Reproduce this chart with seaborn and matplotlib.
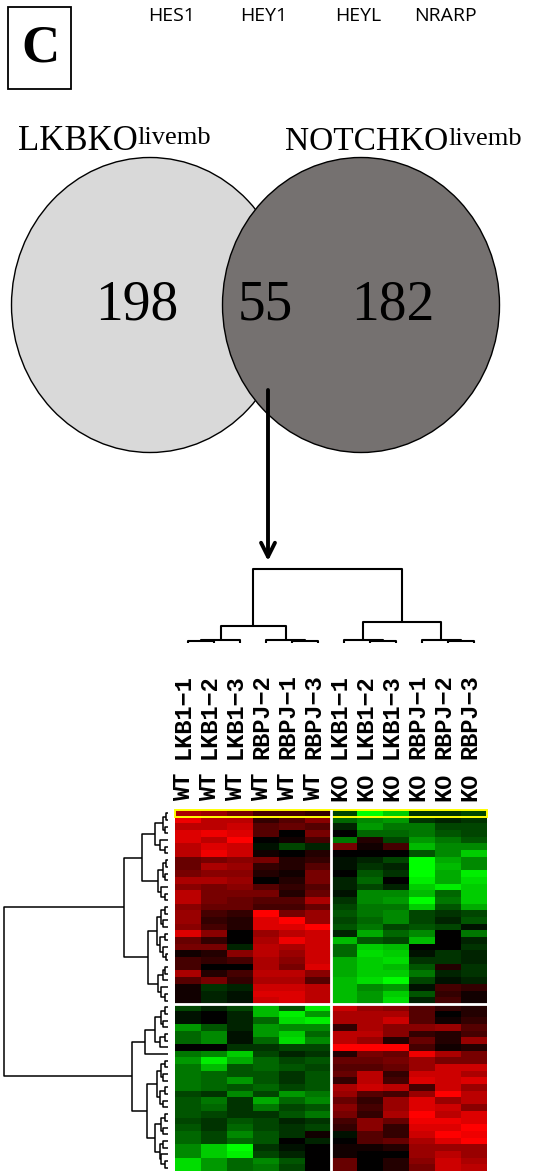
import numpy as np
import pandas as pd
import matplotlib
matplotlib.use("Agg")
import matplotlib.pyplot as plt
import seaborn as sns
from matplotlib.colors import LinearSegmentedColormap
from matplotlib.patches import Ellipse, Rectangle
from matplotlib.collections import LineCollection
from matplotlib.transforms import blended_transform_factory

# ---- data ----
genes = ["HES1", "HEY1", "HEYL", "NRARP"]
set_names = ["LKBKO", "NOTCHKO"]
set_super = "livemb"
venn_counts = [198, 55, 182]  # only LKBKO, both, only NOTCHKO

samples = ["LKB1-1", "LKB1-2", "LKB1-3", "RBPJ-2", "RBPJ-1", "RBPJ-3",
           "LKB1-1", "LKB1-2", "LKB1-3", "RBPJ-1", "RBPJ-2", "RBPJ-3"]
genotype = ["WT"] * 6 + ["KO"] * 6

# expression, red > 0 > green, scale -15..15
expr_top = [
    [10, 9, 7, 4, 4, 3, -4, -15, -12, -3, -3, -4],
    [14, 11, 11, 3, 5, 8, -6, -8, -9, -3, -2, -3],
    [11, 11, 12, 5, 6, 5, -2, -9, -7, -7, -4, -4],
    [13, 14, 13, 5, 0, 7, 0, -6, -6, -7, -5, -4],
    [13, 11, 15, 0, 1, 4, -7, 2, -4, -9, -7, -5],
    [11, 13, 12, -1, -4, -2, 7, 1, 4, -11, -8, -8],
    [11, 14, 12, 1, 0, 2, 0, 0, 0, -5, -8, -12],
    [6, 7, 8, 7, 2, 3, -1, -2, -4, -15, -10, -8],
    [6, 10, 9, 3, 2, 5, -1, -3, -2, -15, -11, -8],
    [7, 8, 8, 2, 1, 7, 0, -5, -3, -15, -10, -14],
    [10, 10, 9, 0, 2, 7, -2, -6, 0, -14, -10, -13],
    [8, 7, 8, 5, 3, 5, -2, -4, -2, -12, -14, -12],
    [11, 7, 7, 7, 2, 6, -1, -8, -8, -11, -6, -12],
    [11, 7, 6, 5, 5, 10, -3, -8, -9, -15, -7, -12],
    [8, 6, 6, 4, 4, 6, -4, -7, -7, -12, -5, -10],
    [9, 4, 3, 15, 7, 9, -5, -7, -8, -4, -3, -4],
    [9, 3, 2, 13, 15, 9, -4, -6, -8, -4, -2, -5],
    [8, 4, 2, 13, 13, 15, -5, -7, -4, -5, -4, -1],
    [13, 8, 0, 9, 11, 12, -2, -10, -6, -8, 0, -7],
    [6, 3, 0, 10, 14, 12, -11, -5, -4, -11, 0, -2],
    [7, 7, -2, 11, 10, 12, -6, -12, -11, 0, 0, -3],
    [1, 2, 8, 11, 9, 12, -6, -13, -12, -1, -3, -2],
    [4, 3, 4, 10, 8, 12, -10, -12, -13, -3, -3, -2],
    [4, 0, 0, 10, 7, 13, -10, -12, -11, -5, 2, -3],
    [10, 2, 4, 11, 11, 8, -10, -12, -12, -7, -2, -3],
    [5, 7, 3, 10, 10, 5, -11, -13, -15, -4, -1, -2],
    [1, -3, -2, 12, 12, 11, -11, -8, -9, -1, 4, 3],
    [1, -2, -1, 13, 13, 11, -11, -9, -12, -5, 3, 1],
    [1, -2, -1, 12, 13, 11, -11, -9, -13, -2, 4, 1],
]
expr_bottom = [
    [-4, -2, -4, -11, -5, -14, 12, 9, 8, 5, 3, 2],
    [-1, 0, -2, -11, -14, -9, 10, 10, 10, 5, 0, 2],
    [-1, 0, -2, -6, -13, -14, 10, 10, 12, 5, 1, 3],
    [-9, -5, -2, -9, -8, -8, 3, 10, 8, 8, 9, 5],
    [-6, -8, -1, -9, -12, -6, 11, 11, 8, 3, 2, 4],
    [-6, -8, -1, -6, -13, -8, 11, 9, 2, 6, 2, 9],
    [0, 0, -3, -3, -4, -4, 15, 15, 15, 4, 1, 2],
    [-7, -8, -12, -4, -2, -3, 2, 7, 6, 14, 10, 7],
    [-9, -14, -10, -6, -4, -5, 6, 6, 7, 9, 7, 7],
    [-7, -11, -5, -6, -5, -4, 5, 5, 6, 9, 12, 12],
    [-7, -6, -5, -5, -3, -5, 6, 11, 3, 12, 12, 10],
    [-7, -6, -9, -5, -3, -5, 3, 11, 4, 13, 12, 13],
    [-7, -6, -5, -6, -4, -5, 10, 12, 11, 4, 12, 9],
    [-4, -3, -8, -4, -9, -7, 9, 5, 4, 9, 15, 11],
    [-5, -7, -3, -10, -6, -8, 6, 3, 9, 13, 9, 11],
    [-5, -6, -3, -7, -4, -5, 8, 4, 9, 13, 12, 8],
    [-5, -4, -3, -3, -5, -7, 7, 3, 10, 15, 11, 13],
    [-4, -3, -5, -4, -2, -3, 4, 8, 6, 14, 14, 13],
    [-5, -3, -6, -4, -3, -4, 3, 8, 3, 13, 13, 15],
    [-6, -4, -8, -5, -3, 1, -1, 5, 3, 12, 15, 14],
    [-6, -4, -6, -5, 0, -2, 0, 5, 6, 10, 13, 15],
    [-8, -12, -15, -3, -1, 0, 1, 1, 2, 9, 9, 9],
    [-8, -12, -14, -4, -2, 0, 1, 0, 0, 9, 11, 9],
    [-13, -9, -6, -8, -5, 0, 6, 0, 2, 8, 12, 10],
    [-13, -9, -6, -7, -4, 0, 6, 0, 2, 7, 12, 11],
]

# cluster trees: (height, left, right), leaves are column / row indices
col_tree = (1.0,
            (0.23, (0.045, (0.03, 0, 1), 2), (0.045, 3, (0.03, 4, 5))),
            (0.28, (0.045, 6, (0.03, 7, 8)), (0.045, 9, (0.03, 10, 11))))

row_tree = (1.0,
            (0.27,
             (0.16,
              (0.08, (0.03, (0.01, 0, 1), (0.02, 2, 3)), (0.05, 4, (0.02, 5, 6))),
              (0.06, (0.03, (0.015, 7, 8), (0.02, 9, 10)), (0.04, 11, (0.02, 12, 13)))),
             (0.12,
              (0.07, (0.04, (0.02, 14, 15), (0.03, 16, 17)),
               (0.05, (0.02, 18, 19), (0.03, 20, (0.015, 21, 22)))),
              (0.06, (0.03, (0.02, 23, 24), 25), (0.04, 26, (0.02, 27, 28))))),
            (0.22,
             (0.14,
              (0.08, (0.04, (0.02, 29, 30), (0.03, 31, 32)), (0.05, (0.02, 33, 34), 35)),
              36),
             (0.13,
              (0.07, (0.04, (0.02, 37, 38), (0.03, 39, 40)),
               (0.05, (0.02, 41, 42), (0.03, 43, 44))),
              (0.08, (0.04, (0.02, 45, 46), (0.03, 47, 48)),
               (0.05, (0.03, 49, 50), (0.04, 51, (0.02, 52, 53)))))))


def dendro(node):
    if isinstance(node, int):
        return node + 0.5, 0.0, []
    h, a, b = node
    xa, ha, sa = dendro(a)
    xb, hb, sb = dendro(b)
    return (xa + xb) / 2, h, sa + sb + [[(xa, ha), (xa, h), (xb, h), (xb, hb)]]


W, H = 556, 1171
fig = plt.figure(figsize=(W / 100, H / 100), dpi=100)


def px_axes(x0, y0, x1, y1):
    return fig.add_axes([x0 / W, 1 - y1 / H, (x1 - x0) / W, (y1 - y0) / H])


bg = fig.add_axes([0, 0, 1, 1])
bg.set_xlim(0, W)
bg.set_ylim(H, 0)
bg.axis("off")

serif = "Liberation Serif"

# panel letter
bg.add_patch(Rectangle((8, 7), 63, 82, fill=False, ec="black", lw=1.3))
bg.text(40, 49, "C", family=serif, weight="bold", fontsize=38, ha="center", va="center")

for g, x in zip(genes, [172, 264, 358, 445]):
    bg.text(x, 16, g, family="Open Sans", fontsize=14, ha="center", va="center")

# venn
bg.add_patch(Ellipse((150, 305), 277, 295, fc="#d9d9d9", ec="black", lw=1))
bg.add_patch(Ellipse((361, 305), 277, 295, fc="#757170", ec="black", lw=1))
for c, x in zip(venn_counts, [137, 265, 393]):
    bg.text(x, 305, str(c), family=serif, fontsize=40, ha="center", va="center")

for name, x, fs in zip(set_names, [18, 285], [25, 24]):
    t = bg.text(x, 150, name, family=serif, fontsize=fs, ha="left", va="baseline")
    bg.annotate(set_super, xy=(1, 0.95), xycoords=t, ha="left", va="top",
                family=serif, fontsize=19)

bg.annotate("", xy=(268, 561), xytext=(268, 390),
            arrowprops=dict(arrowstyle="->,head_length=1.0,head_width=0.5",
                            lw=2.8, color="black", shrinkA=0, shrinkB=0))

# heatmap
data = pd.DataFrame(expr_top + expr_bottom)
cmap = LinearSegmentedColormap.from_list("rg", ["#00ff00", "#000000", "#ff0000"])
hm = px_axes(175, 810, 487, 1171)
sns.heatmap(data, ax=hm, cmap=cmap, vmin=-15, vmax=15, cbar=False,
            xticklabels=False, yticklabels=False)
hm.axvline(6, color="white", lw=2)
hm.axhline(len(expr_top), color="white", lw=2)
hm.add_patch(Rectangle((0, 0), 12, 1, fill=False, ec="#ffff00", lw=1.4, clip_on=False))

# column labels
tr = blended_transform_factory(hm.transData, bg.transData)
mono = ["Liberation Mono", "DejaVu Sans Mono"]
for j, (s, g) in enumerate(zip(samples, genotype)):
    hm.text(j + 0.33, 759, s.replace("-", "\u2212"), transform=tr, rotation=90,
            ha="center", va="bottom", family=mono, weight="bold", fontsize=17)
    hm.text(j + 0.33, 801, g, transform=tr, rotation=90,
            ha="center", va="bottom", family=mono, weight="bold", fontsize=17)

# column dendrogram
cd = px_axes(175, 569, 487, 643)
_, _, segs = dendro(col_tree)
cd.add_collection(LineCollection(segs, colors="black", lw=1.5, clip_on=False))
cd.set_xlim(0, len(samples))
cd.set_ylim(0, 1)
cd.axis("off")

# row dendrogram
rd = px_axes(4, 810, 168, 1171)
_, _, segs = dendro(row_tree)
segs = [[(h, p) for p, h in s] for s in segs]
rd.add_collection(LineCollection(segs, colors="black", lw=1.1, clip_on=False))
rd.set_xlim(1, 0)
rd.set_ylim(len(data), 0)
rd.axis("off")

fig.savefig("out.png", dpi=100)
